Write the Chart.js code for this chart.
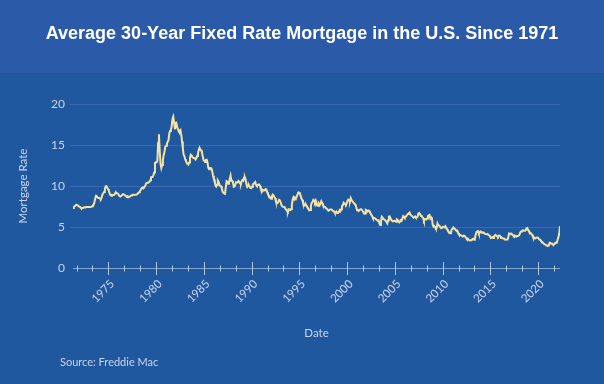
<!DOCTYPE html>
<html>
<head>
<meta charset="utf-8">
<script src="https://cdn.jsdelivr.net/npm/chart.js@4"></script>
<style>
  html, body { margin: 0; padding: 0; background: #1f589f; }
  #wrap { width: 604px; height: 384px; }
</style>
</head>
<body>
<div id="wrap"><canvas id="rateChart" width="604" height="384"></canvas></div>
<script>
// Freddie Mac 30-year fixed rate, monthly averages (%), from April 1971
const startYear = 1971;
const startMonth = 3; // April
const rates1970s = [
  7.31, 7.43, 7.53, 7.60, 7.70, 7.69, 7.63, 7.55, 7.48,
  7.44, 7.32, 7.29, 7.29, 7.37, 7.37, 7.40, 7.40, 7.43, 7.45, 7.44, 7.44,
  7.44, 7.44, 7.46, 7.54, 7.65, 7.73, 8.05, 8.50, 8.82, 8.77, 8.58, 8.54,
  8.54, 8.46, 8.41, 8.58, 8.97, 9.09, 9.28, 9.59, 9.96, 9.98, 9.79, 9.62,
  9.43, 9.10, 8.89, 8.82, 8.91, 8.89, 8.89, 8.94, 9.13, 9.22, 9.14, 9.10,
  9.02, 8.81, 8.76, 8.73, 8.83, 8.92, 9.00, 8.98, 8.91, 8.81, 8.72, 8.63,
  8.72, 8.67, 8.69, 8.75, 8.83, 8.86, 8.94, 8.94, 8.90, 8.92, 8.92, 8.96,
  9.02, 9.14, 9.23, 9.36, 9.52, 9.70, 9.78, 9.83, 9.81, 9.93, 10.06, 10.35,
  10.39, 10.41, 10.43, 10.50, 10.69, 11.04, 11.09, 11.09, 11.30, 11.64, 12.83, 12.90
];
const rates1980s = [
  12.88, 13.04, 15.28, 16.32, 14.26, 12.71, 12.19, 12.56, 13.20, 13.79, 14.21, 14.79,
  14.90, 15.13, 15.40, 15.58, 16.40, 16.70, 16.83, 17.29, 18.16, 18.45, 17.83, 16.92,
  17.40, 17.60, 17.16, 16.89, 16.68, 16.70, 16.82, 16.27, 15.43, 14.61, 13.83, 13.62,
  13.25, 13.04, 12.80, 12.78, 12.63, 12.87, 13.42, 13.81, 13.73, 13.54, 13.44, 13.42,
  13.37, 13.23, 13.39, 13.65, 13.94, 14.42, 14.67, 14.47, 14.35, 14.13, 13.64, 13.18,
  13.08, 12.92, 13.17, 13.20, 12.91, 12.22, 12.03, 12.19, 12.19, 12.14, 11.78, 11.26,
  10.88, 10.71, 10.08, 9.94, 10.14, 10.68, 10.51, 10.20, 10.01, 9.97, 9.70, 9.31,
  9.20, 9.08, 9.04, 9.83, 10.60, 10.54, 10.28, 10.33, 10.89, 11.26, 10.65, 10.65,
  10.43, 9.89, 9.93, 10.20, 10.46, 10.46, 10.43, 10.60, 10.48, 10.30, 10.27, 10.61,
  10.73, 10.65, 11.03, 11.05, 10.77, 10.20, 9.88, 9.99, 10.13, 9.95, 9.77, 9.74
];
const rates1990s = [
  9.90, 10.20, 10.27, 10.37, 10.48, 10.16, 10.04, 10.10, 10.18, 10.18, 10.01, 9.67,
  9.64, 9.37, 9.50, 9.49, 9.47, 9.62, 9.58, 9.24, 9.01, 8.86, 8.71, 8.50,
  8.43, 8.76, 8.94, 8.85, 8.67, 8.51, 8.13, 7.98, 7.92, 8.09, 8.31, 8.22,
  7.99, 7.68, 7.50, 7.47, 7.47, 7.42, 7.21, 7.11, 6.92, 6.83, 7.16, 7.17,
  7.06, 7.15, 7.68, 8.32, 8.60, 8.40, 8.61, 8.51, 8.64, 8.93, 9.17, 9.20,
  9.15, 8.83, 8.46, 8.32, 7.96, 7.57, 7.61, 7.86, 7.64, 7.48, 7.38, 7.20,
  7.03, 7.08, 7.62, 7.93, 8.07, 8.32, 8.25, 8.00, 8.23, 7.92, 7.62, 7.60,
  7.82, 7.65, 7.90, 8.14, 7.94, 7.69, 7.50, 7.48, 7.43, 7.29, 7.21, 7.10,
  6.99, 7.04, 7.13, 7.14, 7.14, 7.00, 6.95, 6.92, 6.72, 6.71, 6.87, 6.72,
  6.79, 6.81, 7.04, 6.92, 7.15, 7.55, 7.63, 7.94, 7.82, 7.85, 7.74, 7.91
];
const rates2000s = [
  8.21, 8.33, 8.24, 8.15, 8.52, 8.29, 8.15, 8.03, 7.91, 7.80, 7.75, 7.38,
  7.03, 7.05, 6.95, 7.08, 7.15, 7.16, 7.13, 6.95, 6.82, 6.62, 6.66, 7.07,
  7.00, 6.89, 7.01, 6.99, 6.81, 6.65, 6.49, 6.29, 6.09, 6.11, 6.07, 6.05,
  5.92, 5.84, 5.75, 5.81, 5.48, 5.23, 5.63, 6.26, 6.15, 5.95, 5.93, 5.88,
  5.71, 5.64, 5.45, 5.83, 6.27, 6.29, 6.06, 5.87, 5.75, 5.72, 5.73, 5.75,
  5.71, 5.63, 5.93, 5.86, 5.72, 5.58, 5.70, 5.82, 5.77, 6.07, 6.33, 6.27,
  6.15, 6.25, 6.32, 6.51, 6.60, 6.68, 6.76, 6.52, 6.40, 6.36, 6.24, 6.14,
  6.22, 6.29, 6.16, 6.18, 6.26, 6.66, 6.70, 6.57, 6.38, 6.38, 6.21, 6.10,
  5.76, 5.92, 5.97, 5.92, 6.04, 6.32, 6.43, 6.48, 6.04, 6.20, 6.09, 5.29,
  5.05, 5.13, 5.00, 4.81, 4.86, 5.42, 5.22, 5.19, 5.06, 4.95, 4.88, 4.93
];
const rates2010s = [
  5.03, 4.99, 4.97, 5.10, 4.89, 4.74, 4.56, 4.43, 4.35, 4.23, 4.30, 4.71,
  4.76, 4.95, 4.84, 4.84, 4.64, 4.51, 4.55, 4.27, 4.11, 4.07, 3.99, 3.96,
  3.92, 3.89, 3.95, 3.91, 3.80, 3.68, 3.55, 3.60, 3.50, 3.38, 3.35, 3.35,
  3.41, 3.53, 3.57, 3.45, 3.54, 4.07, 4.37, 4.46, 4.49, 4.19, 4.26, 4.46,
  4.43, 4.30, 4.34, 4.34, 4.19, 4.16, 4.13, 4.12, 4.16, 4.04, 4.00, 3.86,
  3.67, 3.71, 3.77, 3.67, 3.84, 3.98, 4.05, 3.91, 3.89, 3.80, 3.94, 3.96,
  3.87, 3.66, 3.69, 3.61, 3.60, 3.57, 3.44, 3.44, 3.46, 3.47, 3.77, 4.20,
  4.15, 4.17, 4.20, 4.05, 4.01, 3.90, 3.97, 3.88, 3.81, 3.90, 3.92, 3.95,
  4.03, 4.33, 4.44, 4.47, 4.59, 4.57, 4.53, 4.55, 4.63, 4.83, 4.87, 4.64,
  4.46, 4.37, 4.27, 4.14, 4.07, 3.80, 3.77, 3.62, 3.61, 3.69, 3.70, 3.72
];
const rates2020s = [
  3.62, 3.47, 3.45, 3.31, 3.23, 3.16, 3.02, 2.94, 2.89, 2.83, 2.77, 2.68,
  2.74, 2.81, 3.08, 3.06, 2.96, 2.98, 2.87, 2.84, 2.90, 3.07, 3.07, 3.10,
  3.45, 3.76, 4.17, 5.10
];
const yearLabels = ['1975', '1980', '1985', '1990', '1995', '2000', '2005', '2010', '2015', '2020'];
const yTicks = [0, 5, 10, 15, 20];

const rates = [].concat(rates1970s, rates1980s, rates1990s, rates2000s, rates2010s, rates2020s);
const points = rates.map((r, i) => ({ x: startYear + (startMonth + i + 0.5) / 12, y: r }));

const chartTitle = 'Average 30-Year Fixed Rate Mortgage in the U.S. Since 1971';
const textColor = '#c9d6ec';
const gridColor = '#3a6ab3';

const backdrop = {
  id: 'backdrop',
  beforeDraw(chart) {
    const ctx = chart.ctx;
    ctx.save();
    ctx.fillStyle = '#1f589f';
    ctx.fillRect(0, 0, chart.width, chart.height);
    ctx.fillStyle = '#2b5aa8';
    ctx.fillRect(0, 0, chart.width, 73);
    ctx.fillStyle = '#ffffff';
    ctx.font = 'bold 18px "Liberation Sans"';
    ctx.textAlign = 'center';
    ctx.textBaseline = 'middle';
    ctx.fillText(chartTitle, chart.width / 2, 34);
    ctx.restore();
  },
  beforeDatasetsDraw(chart) {
    // x axis line with ticks crossing it
    const ctx = chart.ctx;
    const xs = chart.scales.x;
    const y0 = chart.scales.y.getPixelForValue(0);
    ctx.save();
    ctx.strokeStyle = 'rgba(200, 215, 240, 0.6)';
    ctx.lineWidth = 1;
    ctx.beginPath();
    ctx.moveTo(chart.chartArea.left, y0 + 0.5);
    ctx.lineTo(chart.chartArea.right, y0 + 0.5);
    ctx.stroke();
    ctx.strokeStyle = 'rgba(215, 225, 245, 0.8)';
    xs.ticks.forEach(t => {
      const px = Math.round(xs.getPixelForValue(t.value)) + 0.5;
      const h = t.label ? 6 : 2.5;
      ctx.beginPath();
      ctx.moveTo(px, y0 - h);
      ctx.lineTo(px, y0 + h + 1);
      ctx.stroke();
    });
    ctx.restore();
  },
  afterDraw(chart) {
    const ctx = chart.ctx;
    ctx.save();
    ctx.fillStyle = textColor;
    ctx.font = '11px Lato';
    ctx.textBaseline = 'middle';
    ctx.fillText('Source: Freddie Mac', 60, 362);
    ctx.restore();
  }
};

new Chart(document.getElementById('rateChart'), {
  type: 'line',
  data: {
    datasets: [{
      label: 'Mortgage Rate',
      data: points,
      borderColor: '#f6e3a1',
      borderWidth: 2,
      pointRadius: 0,
      tension: 0
    }]
  },
  options: {
    responsive: false,
    animation: false,
    devicePixelRatio: 1,
    layout: { padding: { top: 104, left: 0, right: 44, bottom: 0 } },
    plugins: {
      legend: { display: false },
      tooltip: { enabled: false },
      title: { display: false }
    },
    scales: {
      x: {
        type: 'linear',
        min: startYear + (startMonth + 0.5) / 12,
        max: startYear + (startMonth + rates.length - 0.5) / 12,
        afterBuildTicks(scale) {
          const ticks = [];
          for (let k = -2; k <= 28; k++) ticks.push({ value: 1975 + k * 5 / 3 });
          scale.ticks = ticks;
        },
        afterFit(scale) { scale.height = 116; },
        grid: { display: false },
        border: { display: false },
        ticks: {
          autoSkip: false,
          minRotation: 45,
          maxRotation: 45,
          padding: 1,
          labelOffset: 4,
          color: textColor,
          font: { family: 'Lato', size: 11.5 },
          callback(v) {
            const yr = Math.round(v);
            return Math.abs(v - yr) < 1e-6 && yearLabels.includes(String(yr)) ? String(yr) : '';
          }
        },
        title: {
          display: true,
          text: 'Date',
          color: textColor,
          font: { family: 'Lato', size: 11.5 },
          padding: { top: 4, bottom: 44 }
        }
      },
      y: {
        min: 0,
        max: 20,
        afterBuildTicks(scale) { scale.ticks = yTicks.map(v => ({ value: v })); },
        afterFit(scale) { scale.width = 73; },
        border: { display: false },
        grid: {
          color: c => (c.tick && c.tick.value === 0 ? 'rgba(0,0,0,0)' : gridColor),
          tickLength: 3
        },
        ticks: {
          padding: 5,
          color: textColor,
          font: { family: 'Lato', size: 12 }
        },
        title: {
          display: true,
          text: 'Mortgage Rate',
          color: textColor,
          font: { family: 'Lato', size: 11.5 },
          padding: { top: 16, bottom: 4 }
        }
      }
    }
  },
  plugins: [backdrop]
});
</script>
</body>
</html>
